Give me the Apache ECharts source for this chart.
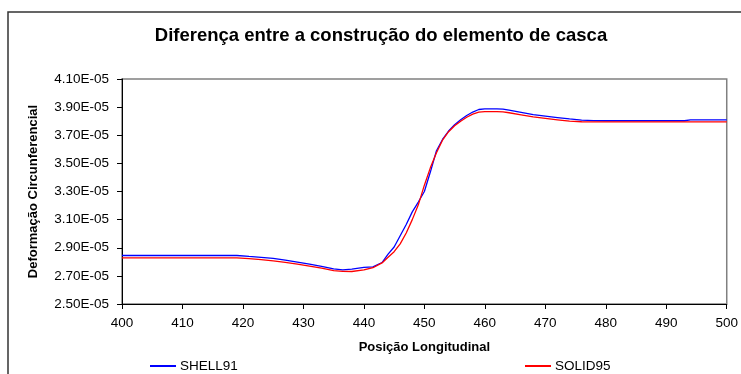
<!DOCTYPE html>
<html>
<head>
<meta charset="utf-8">
<script src="https://cdn.jsdelivr.net/npm/echarts@6/dist/echarts.min.js"></script>
<style>
  html, body { margin: 0; padding: 0; background: #fff; }
  #chart { width: 741px; height: 374px; }
</style>
</head>
<body>
<div id="chart"></div>
<script>
// Longitudinal position of each sampled node
const posicao = [400, 410, 419, 421, 423, 425, 427, 429, 431, 433, 435, 436.5, 438, 440, 441.5, 443,
  444, 445, 446, 447, 448, 449, 450, 451, 452, 453, 454, 455, 456, 457, 458, 459, 460, 461, 462, 463, 464,
  466, 468, 470, 472, 474, 476, 478, 480, 485, 490, 493, 494, 500];

// Circumferential strain, shell element model
const shell91 = [2.845e-5, 2.845e-5, 2.845e-5, 2.838e-5, 2.832e-5, 2.824e-5, 2.812e-5, 2.798e-5, 2.783e-5, 2.768e-5,
  2.750e-5, 2.742e-5, 2.748e-5, 2.760e-5, 2.764e-5, 2.795e-5,
  2.855e-5, 2.905e-5, 2.985e-5, 3.065e-5, 3.155e-5, 3.225e-5, 3.300e-5, 3.440e-5, 3.590e-5, 3.670e-5, 3.730e-5,
  3.775e-5, 3.810e-5, 3.840e-5, 3.865e-5, 3.883e-5, 3.888e-5, 3.888e-5, 3.888e-5, 3.886e-5, 3.878e-5,
  3.862e-5, 3.846e-5, 3.836e-5, 3.826e-5, 3.816e-5, 3.808e-5, 3.804e-5, 3.803e-5, 3.803e-5, 3.803e-5, 3.803e-5,
  3.809e-5, 3.809e-5];

// Circumferential strain, solid element model
const solid95 = [2.828e-5, 2.828e-5, 2.828e-5, 2.823e-5, 2.816e-5, 2.807e-5, 2.796e-5, 2.784e-5, 2.770e-5, 2.755e-5,
  2.738e-5, 2.732e-5, 2.731e-5, 2.742e-5, 2.758e-5, 2.792e-5,
  2.832e-5, 2.872e-5, 2.928e-5, 3.005e-5, 3.100e-5, 3.205e-5, 3.345e-5, 3.470e-5, 3.575e-5, 3.665e-5, 3.725e-5,
  3.768e-5, 3.800e-5, 3.828e-5, 3.850e-5, 3.864e-5, 3.868e-5, 3.868e-5, 3.868e-5, 3.866e-5, 3.860e-5,
  3.845e-5, 3.830e-5, 3.820e-5, 3.810e-5, 3.800e-5, 3.796e-5, 3.795e-5, 3.795e-5, 3.795e-5, 3.795e-5, 3.795e-5,
  3.795e-5, 3.795e-5];

// Axis ranges and tick steps
const xTicks = { min: 400, max: 500, step: 10 };
const yTicks = { min: 2.5e-5, max: 4.1e-5, step: 0.2e-5 };

const seriesNames = ['SHELL91', 'SOLID95'];

function sciLabel(v) {
  const parts = Number(v).toExponential(2).split('e');
  const exp = parseInt(parts[1], 10);
  return parts[0] + 'E' + (exp < 0 ? '-' : '+') + String(Math.abs(exp)).padStart(2, '0');
}

const pairs = arr => posicao.map((x, i) => [x, arr[i]]);

const FONT = '"Liberation Sans", Arial, sans-serif';

const legendBase = {
  top: 359, padding: 0,
  icon: 'rect', itemWidth: 26, itemHeight: 2, itemGap: 4,
  textStyle: { fontFamily: FONT, fontSize: 13.5, color: '#000', padding: [0, 0, 0, -1] }
};

const chart = echarts.init(document.getElementById('chart'), null, { renderer: 'canvas' });
chart.setOption({
  animation: false,
  backgroundColor: '#fff',
  textStyle: { fontFamily: FONT },
  graphic: [{
    type: 'rect',
    z: -1,
    shape: { x: 8, y: 12, width: 800, height: 420 },
    style: { fill: 'none', stroke: '#333', lineWidth: 1.5 }
  }],
  title: {
    text: 'Diferença entre a construção do elemento de casca',
    left: 376,
    top: 21,
    textAlign: 'center',
    textStyle: { fontFamily: FONT, fontSize: 18.5, fontWeight: 'bold', color: '#000' }
  },
  legend: [
    Object.assign({}, legendBase, { data: [seriesNames[0]], left: 150 }),
    Object.assign({}, legendBase, { data: [seriesNames[1]], left: 525 })
  ],
  grid: {
    left: 122, right: 14, top: 79, bottom: 70,
    show: true, borderColor: '#808080', borderWidth: 1.5, backgroundColor: '#fff'
  },
  xAxis: {
    type: 'value',
    min: xTicks.min, max: xTicks.max, interval: xTicks.step,
    name: 'Posição Longitudinal',
    nameLocation: 'middle',
    nameGap: 37,
    nameTextStyle: { fontFamily: FONT, fontSize: 13, fontWeight: 'bold', color: '#000' },
    axisLine: { lineStyle: { color: '#000', width: 1 } },
    axisTick: { show: true, length: 5, lineStyle: { color: '#000' } },
    axisLabel: { margin: 12, fontFamily: FONT, fontSize: 13.5, color: '#000' },
    splitLine: { show: false }
  },
  yAxis: {
    type: 'value',
    min: yTicks.min, max: yTicks.max, interval: yTicks.step,
    name: 'Deformação Circunferencial',
    nameLocation: 'middle',
    nameGap: 82,
    nameRotate: 90,
    nameTextStyle: { fontFamily: FONT, fontSize: 13, fontWeight: 'bold', color: '#000' },
    axisLine: { show: true, lineStyle: { color: '#000', width: 1 } },
    axisTick: { show: true, length: 5, lineStyle: { color: '#000' } },
    axisLabel: { margin: 13, fontFamily: FONT, fontSize: 13.5, color: '#000', formatter: sciLabel },
    splitLine: { show: false }
  },
  series: [{
    name: seriesNames[0],
    type: 'line',
    data: pairs(shell91),
    symbol: 'none',
    lineStyle: { color: '#0000FF', width: 1.3 },
    itemStyle: { color: '#0000FF' }
  }, {
    name: seriesNames[1],
    type: 'line',
    data: pairs(solid95),
    symbol: 'none',
    lineStyle: { color: '#FF0000', width: 1.3 },
    itemStyle: { color: '#FF0000' }
  }]
});
</script>
</body>
</html>
